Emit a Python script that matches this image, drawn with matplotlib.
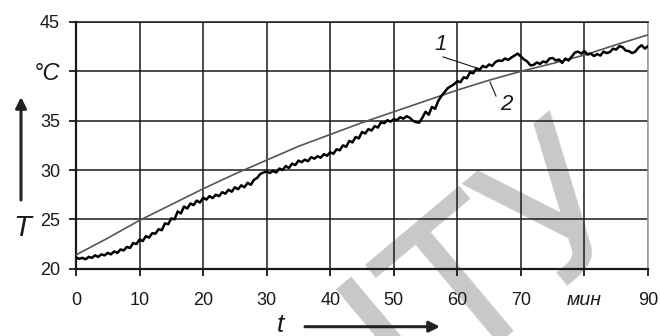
import numpy as np
import matplotlib.pyplot as plt
from matplotlib.transforms import IdentityTransform

# curve 2 (grey, smooth), read every 5 min
minutes_2 = [0, 5, 10, 15, 20, 25, 30, 35, 40, 45, 50, 55, 60, 65, 70, 75, 80, 85, 90]
temp_2 = [21.4, 23.1, 24.9, 26.5, 28.1, 29.6, 31.0, 32.4, 33.6, 34.8,
          35.9, 37.0, 38.1, 39.1, 40.0, 40.8, 41.65, 42.7, 43.7]

# curve 1 (black, noisy), read every half minute
temp_1 = [
    21.15, 21.0, 21.1, 20.95, 21.2, 21.1, 21.35, 21.2, 21.45, 21.35, 21.6, 21.45, 21.75, 21.6, 21.95, 21.85, 22.2, 22.1, 22.6, 22.5,
    22.95, 22.8, 23.3, 23.15, 23.6, 23.55, 24.0, 23.9, 24.6, 24.5, 25.1, 25.0, 25.8, 25.6, 26.3, 26.1, 26.6, 26.45, 26.9, 26.7,
    27.2, 27.0, 27.35, 27.15, 27.5, 27.35, 27.75, 27.6, 28.0, 27.8, 28.25, 28.05, 28.45, 28.25, 28.7, 28.5, 29.0, 29.2, 29.6, 29.75,
    29.85, 29.7, 29.9, 29.75, 30.15, 30.0, 30.4, 30.2, 30.65, 30.5, 30.95, 30.8, 31.05, 30.9, 31.3, 31.15, 31.4, 31.25, 31.6, 31.45,
    31.8, 31.65, 32.1, 32.0, 32.5, 32.35, 32.95, 32.8, 33.35, 33.2, 33.85, 33.7, 34.15, 34.0, 34.45, 34.3, 34.85, 34.75, 35.05, 34.9,
    35.15, 35.05, 35.35, 35.2, 35.45, 35.3, 35.0, 34.85, 34.8, 35.3, 35.9, 35.6, 36.4, 36.2, 37.0, 37.5, 37.9, 38.3, 38.5, 38.7,
    39.0, 38.9, 39.4, 39.3, 39.9, 39.8, 40.3, 40.15, 40.55, 40.4, 40.7, 40.55, 40.95, 41.1, 41.05, 41.3, 41.15, 41.4, 41.6, 41.8,
    41.5, 41.2, 41.0, 40.6, 40.65, 40.9, 40.75, 41.0, 40.9, 41.3, 41.35, 41.1, 41.2, 40.85, 41.3, 41.1, 41.5, 41.9, 42.0, 41.8,
    42.05, 41.7, 41.8, 41.55, 41.75, 41.6, 42.0, 41.85, 41.95, 42.3, 42.2, 42.55, 42.45, 42.1, 42.05, 41.85, 42.0, 42.4, 42.65, 42.3, 42.55,
]
minutes_1 = np.linspace(0, 90, len(temp_1))

x_ticks = [0, 10, 20, 30, 40, 50, 60, 70, 80, 90]
x_labels = ['0', '10', '20', '30', '40', '50', '60', '70', 'мин', '90']
y_ticks = [20, 25, 30, 35, 40, 45]
y_labels = ['20', '25', '30', '35', '°C', '45']

plt.rcParams['font.family'] = ['Liberation Sans', 'DejaVu Sans']
ink = '#1a1a1a'

fig = plt.figure(figsize=(6.6, 3.36), dpi=100)
ax = fig.add_axes([76 / 660, 1 - 268.7 / 336, 572 / 660, 246.7 / 336])
ax.set_facecolor('none')
ax.set_axisbelow(True)

# watermark
ax.text(491.7, 3.1, 'НТУ', transform=IdentityTransform(), fontsize=144,
        family='DejaVu Sans', color='#c8c8c8', rotation=40,
        rotation_mode='anchor', ha='center', va='baseline', zorder=0.1)

ax.plot(minutes_2, temp_2, color='#555555', lw=1.2, zorder=3)
ax.plot(minutes_1, temp_1, color='black', lw=1.8, zorder=4)

ax.set_xlim(0, 90)
ax.set_ylim(20, 45)
ax.set_xticks(x_ticks)
ax.set_xticklabels(x_labels, fontsize=13)
ax.set_yticks(y_ticks)
ax.set_yticklabels(y_labels, fontsize=13)
ax.get_xticklabels()[8].set_style('italic')
ax.get_xticklabels()[8].set_fontsize(14)
ax.get_yticklabels()[4].set_style('italic')
ax.get_yticklabels()[4].set_fontsize(17)

ax.grid(True, color=ink, lw=1.1)
ax.xaxis.get_gridlines()[-1].set_color('#9a9a9a')
ax.tick_params(direction='out', length=5, width=1.3, color=ink, labelcolor=ink)
ax.tick_params(axis='x', pad=12)
ax.tick_params(axis='y', pad=6.5)
for side in ['left', 'bottom']:
    ax.spines[side].set_linewidth(1.6)
    ax.spines[side].set_color(ink)
ax.spines['top'].set_linewidth(1.1)
ax.spines['top'].set_color(ink)
ax.spines['right'].set_linewidth(1.1)
ax.spines['right'].set_color('#9a9a9a')

# curve labels with leader lines
ax.text(57.4, 42.7, '1', fontsize=16, style='italic', ha='center', va='center', color=ink)
ax.plot([57.74, 63.56], [41.46, 40.24], color=ink, lw=0.8, zorder=5)
ax.text(67.65, 36.6, '2', fontsize=16, style='italic', ha='center', va='center', color=ink)
ax.plot([65.13, 66.08], [38.92, 37.5], color=ink, lw=0.8, zorder=5)

# axis names with arrows
fig.text(22 / 660, 1 - 228 / 336, 'T', fontsize=21, style='italic', ha='center', va='center', color=ink)
ax.annotate('', xy=(21, 336 - 97), xytext=(21, 336 - 200), xycoords='figure pixels',
            textcoords='figure pixels', annotation_clip=False,
            arrowprops=dict(arrowstyle='-|>', lw=2.2, color='#222222', mutation_scale=16,
                            shrinkA=0, shrinkB=0))
fig.text(280 / 660, 1 - 324.5 / 336, 't', fontsize=19, style='italic', ha='center', va='center', color=ink)
ax.annotate('', xy=(440, 336 - 326.7), xytext=(305, 336 - 326.7), xycoords='figure pixels',
            textcoords='figure pixels', annotation_clip=False,
            arrowprops=dict(arrowstyle='-|>', lw=2.2, color='#222222', mutation_scale=16,
                            shrinkA=0, shrinkB=0))

fig.savefig('out.png', dpi=100)
